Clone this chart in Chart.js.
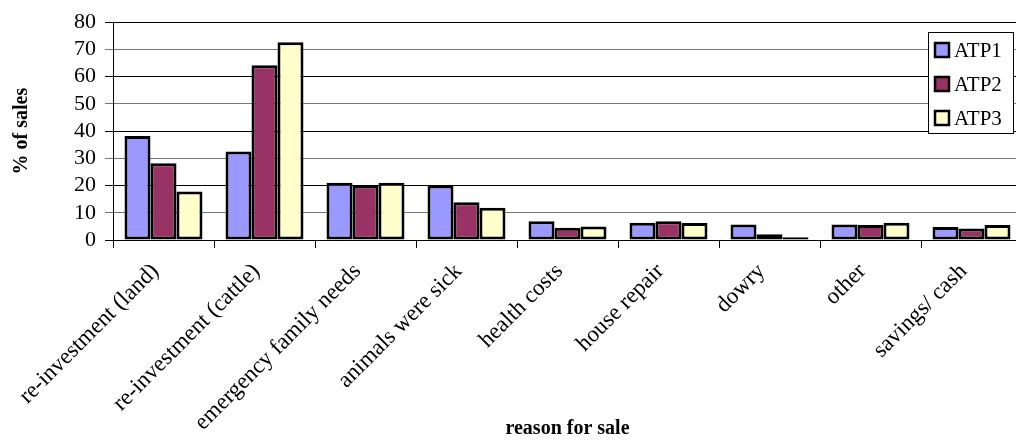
<!DOCTYPE html>
<html>
<head>
<meta charset="utf-8">
<script src="https://cdn.jsdelivr.net/npm/chart.js@4/dist/chart.umd.min.js"></script>
<style>
  html, body { margin: 0; padding: 0; background: #fff; overflow: hidden; }
  #wrap { position: relative; width: 1030px; height: 441px; }
</style>
</head>
<body>
<div id="wrap"><canvas id="salesChart"></canvas></div>
<script>
// reasons for sale and the share of sales per survey round
const reasons = [
    're-investment (land)', 're-investment (cattle)', 'emergency family needs',
    'animals were sick', 'health costs', 'house repair', 'dowry', 'other', 'savings/ cash'
];
const atp1 = [38.2, 32.5, 21.0, 20.0, 6.9, 6.3, 5.7, 5.7, 4.8];
const atp2 = [28.2, 64.2, 20.0, 13.9, 4.5, 6.9, 2.1, 5.5, 4.2];
const atp3 = [17.8, 72.6, 21.0, 11.8, 5.0, 6.2, 1.0, 6.3, 5.5];
const seriesNames = ['ATP1', 'ATP2', 'ATP3'];
const seriesColors = ['#9999ff', '#993366', '#ffffcc'];

const serif = '"Liberation Serif", "Times New Roman", serif';

// boxed legend sitting inside the plot, top right
const boxedLegend = {
    id: 'boxedLegend',
    afterDraw(chart) {
        const ctx = chart.ctx;
        const x = 928, y = 32, w = 85, h = 101;
        ctx.save();
        ctx.fillStyle = '#fff';
        ctx.fillRect(x, y, w, h);
        ctx.strokeStyle = '#000';
        ctx.lineWidth = 1;
        ctx.strokeRect(x + 0.5, y + 0.5, w, h);
        ctx.font = '21px ' + serif;
        ctx.textBaseline = 'middle';
        chart.data.datasets.forEach((ds, i) => {
            const cy = y + 18 + i * 34;
            ctx.fillStyle = ds.backgroundColor;
            ctx.fillRect(x + 7, cy - 7, 14, 14);
            ctx.lineWidth = 2.5;
            ctx.strokeRect(x + 7, cy - 7, 14, 14);
            ctx.fillStyle = '#000';
            ctx.fillText(ds.label, x + 26, cy + 1);
        });
        ctx.restore();
    }
};

new Chart(document.getElementById('salesChart'), {
    type: 'bar',
    data: {
        labels: reasons,
        datasets: [atp1, atp2, atp3].map((vals, i) => ({
            label: seriesNames[i],
            data: vals,
            backgroundColor: seriesColors[i],
            borderColor: '#000',
            borderWidth: 3,
            borderSkipped: false,
            categoryPercentage: 0.772,
            barPercentage: 1
        }))
    },
    options: {
        responsive: true,
        maintainAspectRatio: false,
        animation: false,
        layout: { padding: { top: 18, right: 8, left: 0, bottom: 0 } },
        plugins: {
            legend: { display: false },
            tooltip: { enabled: false }
        },
        scales: {
            x: {
                grid: {
                    drawOnChartArea: false,
                    tickLength: 8,
                    color: '#000'
                },
                border: { color: '#000', width: 1 },
                ticks: {
                    color: '#000',
                    font: { family: serif, size: 23 },
                    minRotation: 45,
                    maxRotation: 45,
                    autoSkip: false,
                    labelOffset: -8,
                    padding: 10
                },
                title: {
                    display: true,
                    text: 'reason for sale',
                    color: '#000',
                    font: { family: serif, size: 20, weight: 'bold' },
                    padding: { top: 0, bottom: 0 }
                },
                afterFit(scale) { scale.height = 201; }
            },
            y: {
                min: 0,
                max: 80,
                ticks: {
                    stepSize: 10,
                    autoSkip: false,
                    color: '#000',
                    font: { family: serif, size: 22 },
                    padding: 9
                },
                grid: {
                    tickLength: 8,
                    lineWidth: 1,
                    color: (c) => (c.tick && c.tick.value % 20 === 0) ? '#000' : '#777'
                },
                border: { color: '#000', width: 1 },
                title: {
                    display: true,
                    text: '% of sales',
                    color: '#000',
                    font: { family: serif, size: 20, weight: 'bold' },
                    padding: { top: 10, bottom: 0 }
                },
                afterFit(scale) { scale.width = 113; }
            }
        }
    },
    plugins: [boxedLegend]
});
</script>
</body>
</html>
